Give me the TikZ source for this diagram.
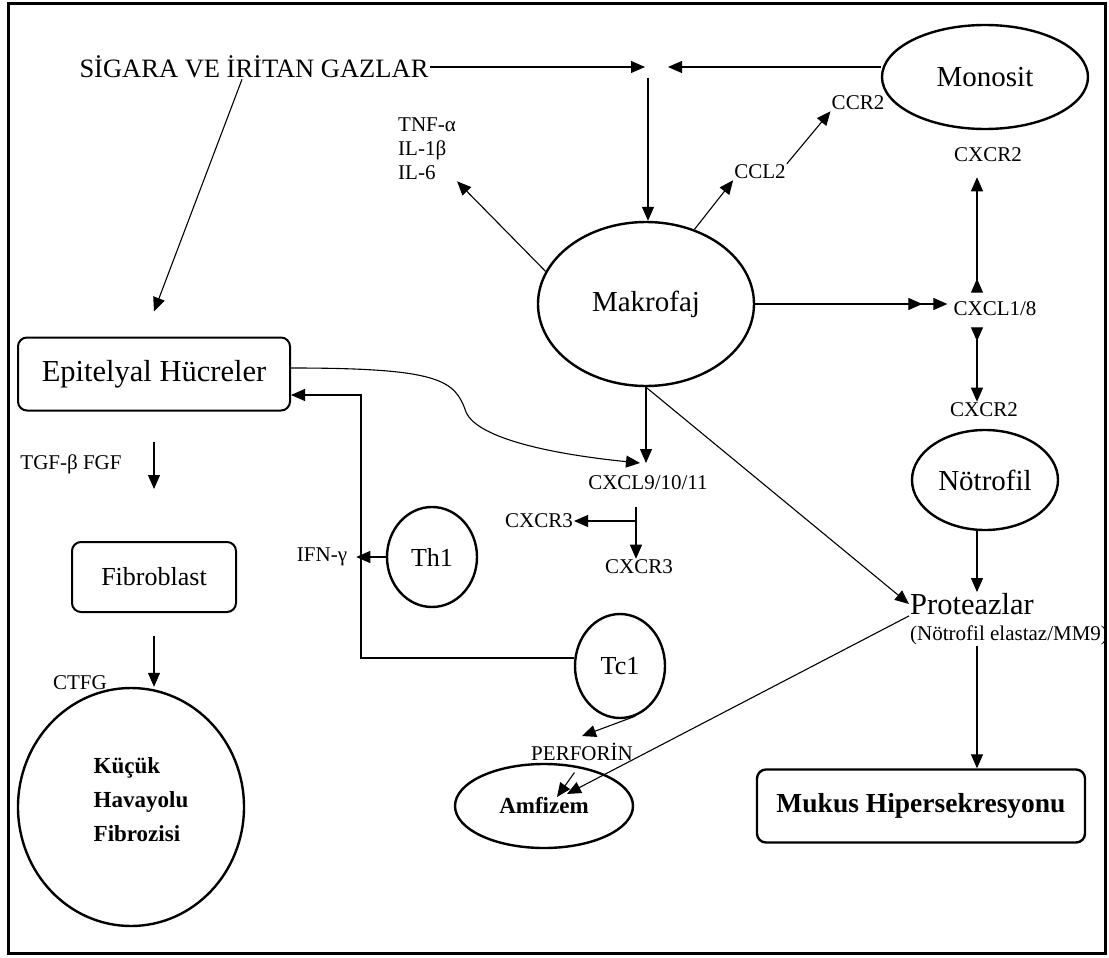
\documentclass[tikz,border=0pt]{standalone}
\usepackage{fontspec}
\setmainfont{Liberation Serif}
\usetikzlibrary{arrows.meta}
\usetikzlibrary{positioning}
\usetikzlibrary{shapes.geometric}

\newcommand{\lblfont}{\fontsize{21}{24}\selectfont}
\newcommand{\cellfont}{\fontsize{29}{33}\selectfont}

\begin{document}
\begin{tikzpicture}[x=1pt,y=-1pt,
  cell/.style={draw,ellipse,line width=2.4pt,inner sep=0pt,font=\cellfont},
  box/.style={draw,rounded corners=9pt,line width=2pt,font=\cellfont},
  lab/.style={font=\lblfont,inner sep=1pt},
  arr/.style={-{Triangle[length=14pt,width=12pt]},line width=1.1pt},
  dbl/.style={-{Triangle[length=14pt,width=12pt,sep=11pt]Triangle[length=14pt,width=12pt]},line width=1.1pt},
  bi/.style={{Triangle[length=14pt,width=12pt,reversed]}-{Triangle[length=14pt,width=12pt]},line width=1.1pt},
  ]
\useasboundingbox (0,0) rectangle (1109,958);

% top row
\node[lab,font=\fontsize{26.5}{30}\selectfont] (smoke) at (254,67) {SİGARA VE İRİTAN GAZLAR};
\node[cell,minimum width=206pt,minimum height=104pt] (mono) at (985,77) {Monosit};
\coordinate (mix) at (648,67);
\coordinate (nx) at (977,0);

% macrophage and its products
\node[cell,minimum width=216pt,minimum height=164pt] (mak) at (646,304) {Makrofaj};
\node[lab,align=left,anchor=north west] (tnf) at (397,117) {TNF-α\\IL-1β\\IL-6};
\node[lab] (ccl2) at (760,172) {CCL2};
\node[lab] (ccr2) at (858,103) {CCR2};
\node[lab] (cr2a) at (988,155) {CXCR2};
\node[lab] (cxcl18) at (995,309) {CXCL1/8};
\node[lab] (cr2b) at (984,410) {CXCR2};
\node[cell,minimum width=146pt,minimum height=100pt] (notr) at (985,480) {Nötrofil};
\node[font=\fontsize{30.5}{34}\selectfont,inner sep=1pt,anchor=west] (prot) at (909,604) {Proteazlar};
\node[lab,anchor=west] (elast) at (909,635) {(Nötrofil elastaz/MM9)};
\node[box,line width=2.4pt,minimum width=328pt,minimum height=73pt,font=\bfseries\fontsize{27.5}{31}\selectfont] (muk) at (921,806) {Mukus Hipersekresyonu};

% T cells
\node[lab] (cxcl9) at (648,483) {CXCL9/10/11};
\node[lab] (cr3a) at (539,521) {CXCR3};
\node[lab] (cr3b) at (639,567) {CXCR3};
\node[cell,minimum width=90pt,minimum height=100pt,font=\fontsize{26}{30}\selectfont] (th1) at (432,557) {Th1};
\node[lab] (ifn) at (322,557) {IFN-γ};
\node[cell,minimum width=90pt,minimum height=104pt,font=\fontsize{26}{30}\selectfont] (tc1) at (620,666) {Tc1};
\node[lab] (perf) at (582,752) {PERFORİN};
\node[cell,minimum width=178pt,minimum height=84pt,font=\bfseries\fontsize{23}{27}\selectfont] (amf) at (544,806) {\raisebox{-4pt}{Amfizem}};

% epithelium side
\node[box,minimum width=272pt,minimum height=73pt,font=\fontsize{30.5}{34}\selectfont] (epi) at (154,374) {Epitelyal Hücreler};
\node[lab] (tgf) at (71,464) {TGF-β FGF};
\node[box,minimum width=164pt,minimum height=70pt,font=\fontsize{26}{30}\selectfont] (fib) at (154,577) {Fibroblast};
\node[lab] (ctfg) at (80,683) {CTFG};
\node[cell,minimum width=226pt,minimum height=238pt] (kuc) at (131,807) {};
\node[font=\bfseries\fontsize{23}{34}\selectfont,align=left] (kuctxt) at (141,800) {Küçük\\Havayolu\\Fibrozisi};

\coordinate (c9top) at (640,463);
\coordinate (c9out) at (636,507);
\coordinate (c9br) at (636,521);
\coordinate (bend) at (466,412);
\coordinate (tcup) at (361,395);
\coordinate (amfin1) at (557,797);
\coordinate (amfin2) at (567,794);

% connectors
\draw[arr,shorten >=3pt] (smoke.east) -- (mix);
\draw[arr,shorten >=20pt] (mono.west |- mix) -- (mix);
\draw[arr,shorten <=11pt] (mix) -- (mix |- mak.north);
\draw[arr] ([xshift=-12pt]smoke.south) -- ([yshift=25pt]epi.north);

\draw[arr] (mak.162) -- (tnf.south east);
\draw[arr] (mak.57) -- (ccl2.south west);
\draw[arr] (ccl2.north east) -- (ccr2.south west);
\draw[dbl,shorten >=5pt] (mak.east) -- (mak.east -| cxcl18.west);
\draw[bi,shorten <=8pt,shorten >=14pt] (cxcl18.north -| nx) -- (cr2a.south -| nx);
\draw[bi,shorten <=10pt] (cxcl18.south -| nx) -- (cr2b.north -| nx);
\draw[arr] (notr.south -| nx) -- (prot.north -| nx);
\draw[arr] (elast.south -| nx) -- (muk.north -| nx);
\draw[arr] (mak.south) -- (prot.west);
\draw[arr] (prot.south west) -- (amfin2);

\draw[arr] (mak.south) -- (mak.south |- c9top);
\draw[arr] ([yshift=6pt]epi.east) .. controls (440,368) and (455,380) .. (bend)
  .. controls (478,440) and (560,455) .. (c9top);
\draw[arr] (c9out) -- (cr3b.north -| c9out);
\draw[arr] (c9br) -- (cr3a.east);

\draw[arr,shorten >=8pt] (th1.west) -- (ifn.east);
\draw[arr] (tc1.170) -| (tcup) -- (tcup -| epi.east);
\draw[arr] (tc1.-73) -- ([yshift=6pt]perf.north);
\draw[arr,shorten <=13pt] (perf.south) -- (amfin1);

\draw[arr,shorten <=30pt,shorten >=52pt] (epi.south) -- (fib.north);
\draw[arr,shorten <=23pt] (fib.south) -- (fib.south |- kuc.north);

\draw[line width=3pt] (8,4) rectangle (1105,953);
\end{tikzpicture}
\end{document}
